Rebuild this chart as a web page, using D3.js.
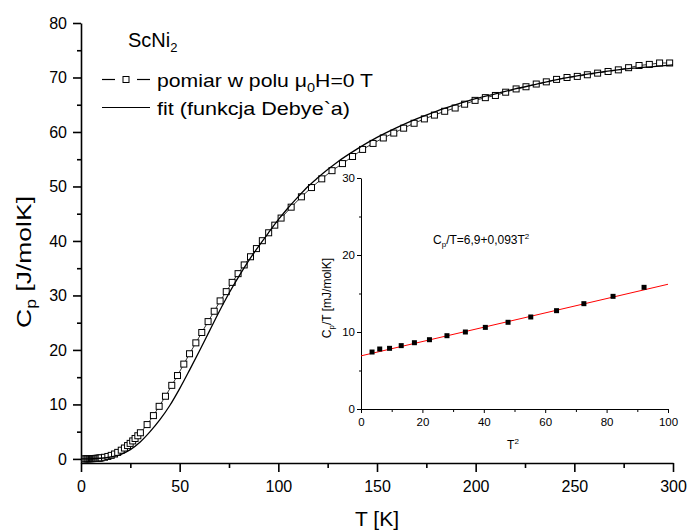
<!DOCTYPE html>
<html>
<head>
<meta charset="utf-8">
<script src="https://cdn.jsdelivr.net/npm/d3@7"></script>
<style>
  body { margin: 0; background: #fff; }
  svg text { font-family: "Liberation Sans", Arial, Helvetica, sans-serif; fill: #000; }
</style>
</head>
<body>
<svg id="chart" width="688" height="532"></svg>
<script>
// Heat capacity of ScNi2, zero field: temperature [K] and Cp [J/molK]
const measT = [
  1.9, 2.5, 3.1, 3.6, 4.2, 4.7, 5.3, 5.8, 6.4, 6.9, 7.4, 8.0, 8.5, 9.1, 9.6,
  10.2, 11.9, 13.6, 15.3, 17.0, 18.6, 20.4, 22.0, 23.6, 24.9, 26.2, 27.4, 28.8, 30.1,
  33.5, 36.7, 39.6, 42.8, 46.0, 48.9, 52.1, 55.0, 58.2, 61.2, 64.4, 67.5, 70.5,
  73.6, 76.6, 79.6, 82.7, 85.9, 88.9, 91.9, 95.1, 98.2, 101.4, 106.5, 111.7,
  116.8, 122.0, 127.2, 132.5, 137.6, 142.7, 148.0, 153.2, 158.5, 163.5, 168.8,
  174.0, 179.1, 184.3, 189.6, 194.4, 199.7, 204.9, 210.0, 215.2, 220.5, 225.5,
  230.7, 235.8, 241.0, 246.3, 251.5, 256.6, 261.8, 267.1, 272.3, 277.5, 282.8,
  288.0, 293.2, 298.3
];
const measCp = [
  0.014, 0.019, 0.024, 0.030, 0.036, 0.042, 0.050, 0.058, 0.068, 0.078, 0.088, 0.102, 0.116, 0.133, 0.152,
  0.20, 0.30, 0.45, 0.65, 0.90, 1.20, 1.60, 2.00, 2.45, 2.85, 3.30, 3.75, 4.25, 4.80,
  6.30, 7.95, 9.65, 11.5, 13.5, 15.3, 17.4, 19.3, 21.3, 23.2, 25.2, 27.1, 29.0,
  30.7, 32.4, 34.0, 35.6, 37.1, 38.6, 40.05, 41.5, 42.9, 44.2, 46.2, 48.1,
  49.8, 51.4, 52.9, 54.2, 55.5, 56.8, 57.9, 58.9, 59.8, 60.7, 61.6,
  62.4, 63.1, 63.8, 64.4, 65.1, 65.8, 66.3, 66.7, 67.3, 67.9, 68.3,
  68.8, 69.2, 69.65, 70.0, 70.2, 70.5, 70.8, 71.1, 71.4, 71.8, 72.2,
  72.4, 72.66, 72.66
];

// Debye fit curve
const fitT = [
  0, 5, 10, 15, 20, 25, 30, 35, 40, 45, 50, 55, 60, 65, 70, 75, 80, 85, 90, 95,
  100, 105, 110, 115, 120, 125, 130, 140, 150, 160, 170, 180, 190, 200, 210,
  220, 230, 240, 250, 260, 270, 280, 290, 300
];
const fitCp = [
  0, 0.02, 0.12, 0.35, 0.8, 1.7, 3.1, 5.0, 7.2, 9.8, 12.9, 16.3, 19.8, 23.4, 27.0, 30.4, 33.5, 36.4, 39.0, 41.5,
  43.9, 46.1, 48.1, 50.0, 51.6, 53.1, 54.5, 56.9, 59.0, 60.8, 62.4, 63.8, 65.0, 66.1, 67.0,
  67.9, 68.7, 69.5, 70.2, 70.8, 71.3, 71.7, 72.0, 72.3
];

// Low-temperature Cp/T [mJ/molK] versus T^2
const insetT2 = [3.6, 6.1, 9.3, 13.1, 17.4, 22.3, 28.0, 34.0, 40.5, 47.9, 55.3, 63.7, 72.6, 82.1, 92.2];
const insetCpT = [7.40, 7.79, 7.88, 8.23, 8.61, 9.00, 9.52, 10.0, 10.6, 11.26, 11.95, 12.77, 13.68, 14.63, 15.8];
// Linear fit Cp/T = 6.9 + 0.093 T^2, end points
const insetFitT2 = [0, 100];
const insetFitCpT = [6.9, 16.2];

// Tick values
const mainXTicks = [0, 50, 100, 150, 200, 250, 300];
const mainXMinor = [25, 75, 125, 175, 225, 275];
const mainYTicks = [0, 10, 20, 30, 40, 50, 60, 70, 80];
const mainYMinor = [5, 15, 25, 35, 45, 55, 65, 75];
const insetXTicks = [0, 20, 40, 60, 80, 100];
const insetXMinor = [10, 30, 50, 70, 90];
const insetYTicks = [0, 10, 20, 30];
const insetYMinor = [5, 15, 25];

const FONT = '"Liberation Sans", Arial, Helvetica, sans-serif';
const svg = d3.select("#chart");

// ---------- main panel ----------
const x = d3.scaleLinear().domain([0, 300]).range([81, 673]);
const y = d3.scaleLinear().domain([-0.75, 80]).range([463, 23]);

function styleAxis(g, width, fontSize) {
  g.attr("font-family", FONT);
  g.select(".domain").attr("stroke", "#000").attr("stroke-width", width);
  g.selectAll(".tick line").attr("stroke", "#000").attr("stroke-width", width);
  g.selectAll(".tick text").attr("font-size", fontSize).attr("fill", "#000");
}

const gx = svg.append("g").attr("transform", "translate(0,463)")
  .call(d3.axisBottom(x).tickValues(mainXTicks).tickSize(9).tickSizeOuter(0).tickPadding(9).tickFormat(d3.format("d")));
styleAxis(gx, 1.6, 16);
const gxm = svg.append("g").attr("transform", "translate(0,463)")
  .call(d3.axisBottom(x).tickValues(mainXMinor).tickSize(5).tickFormat(""));
styleAxis(gxm, 1.6, 16);
gxm.select(".domain").remove();

const gy = svg.append("g").attr("transform", "translate(81,0)")
  .call(d3.axisLeft(y).tickValues(mainYTicks).tickSize(8).tickSizeOuter(0).tickPadding(6).tickFormat(d3.format("d")));
styleAxis(gy, 1.6, 16);
const gym = svg.append("g").attr("transform", "translate(81,0)")
  .call(d3.axisLeft(y).tickValues(mainYMinor).tickSize(4).tickFormat(""));
styleAxis(gym, 1.6, 16);
gym.select(".domain").remove();

// axis titles
svg.append("text").attr("x", 377).attr("y", 526).attr("text-anchor", "middle")
  .attr("font-size", 21).text("T [K]");
const yl = svg.append("text").attr("transform", "translate(31,262) rotate(-90)")
  .attr("text-anchor", "middle").attr("font-size", 21)
  .attr("textLength", 132).attr("lengthAdjust", "spacingAndGlyphs");
yl.append("tspan").text("C");
yl.append("tspan").attr("font-size", 14).attr("dy", 5).text("p");
yl.append("tspan").attr("dy", -5).text(" [J/molK]");

// measured series: thin connecting line plus open squares
const meas = measT.map((t, i) => ({ t, c: measCp[i] }));
const lineMeas = d3.line().x(d => x(d.t)).y(d => y(d.c));
svg.append("path").datum(meas).attr("d", lineMeas)
  .attr("fill", "none").attr("stroke", "#000").attr("stroke-width", 0.8);
svg.append("g").selectAll("rect").data(meas).join("rect")
  .attr("x", d => x(d.t) - 3).attr("y", d => y(d.c) - 3)
  .attr("width", 6).attr("height", 6)
  .attr("fill", "#fff").attr("stroke", "#000").attr("stroke-width", 1);

// Debye fit
const fit = fitT.map((t, i) => ({ t, c: fitCp[i] }));
svg.append("path").datum(fit)
  .attr("d", d3.line().x(d => x(d.t)).y(d => y(d.c)).curve(d3.curveMonotoneX))
  .attr("fill", "none").attr("stroke", "#000").attr("stroke-width", 1.3);

// legend
const title = svg.append("text").attr("x", 128).attr("y", 47).attr("font-size", 20);
title.append("tspan").text("ScNi");
title.append("tspan").attr("font-size", 13).attr("dy", 5).text("2");

svg.append("line").attr("x1", 102).attr("x2", 115).attr("y1", 79.5).attr("y2", 79.5)
  .attr("stroke", "#000").attr("stroke-width", 1.2);
svg.append("rect").attr("x", 123).attr("y", 76.5).attr("width", 6).attr("height", 6)
  .attr("fill", "#fff").attr("stroke", "#000").attr("stroke-width", 1);
svg.append("line").attr("x1", 137).attr("x2", 150).attr("y1", 79.5).attr("y2", 79.5)
  .attr("stroke", "#000").attr("stroke-width", 1.2);
const leg1 = svg.append("text").attr("x", 157).attr("y", 87).attr("font-size", 19)
  .attr("textLength", 216).attr("lengthAdjust", "spacingAndGlyphs");
leg1.append("tspan").text("pomiar w polu \u03BC");
leg1.append("tspan").attr("font-size", 13).attr("dy", 5).text("0");
leg1.append("tspan").attr("dy", -5).text("H=0 T");

svg.append("line").attr("x1", 102).attr("x2", 150).attr("y1", 107.5).attr("y2", 107.5)
  .attr("stroke", "#000").attr("stroke-width", 1.2);
svg.append("text").attr("x", 157).attr("y", 115).attr("font-size", 19)
  .attr("textLength", 193).attr("lengthAdjust", "spacingAndGlyphs")
  .text("fit (funkcja Debye`a)");

// ---------- inset ----------
const xi = d3.scaleLinear().domain([0, 100]).range([361, 668]);
const yi = d3.scaleLinear().domain([0, 30]).range([409, 178]);

const gxi = svg.append("g").attr("transform", "translate(0,409)")
  .call(d3.axisBottom(xi).tickValues(insetXTicks).tickSize(4).tickSizeOuter(0).tickPadding(5).tickFormat(d3.format("d")));
styleAxis(gxi, 1, 11.5);
const gxim = svg.append("g").attr("transform", "translate(0,409)")
  .call(d3.axisBottom(xi).tickValues(insetXMinor).tickSize(3).tickFormat(""));
styleAxis(gxim, 1, 11.5);
gxim.select(".domain").remove();

const gyi = svg.append("g").attr("transform", "translate(361,0)")
  .call(d3.axisLeft(yi).tickValues(insetYTicks).tickSize(4).tickSizeOuter(0).tickPadding(2).tickFormat(d3.format("d")));
styleAxis(gyi, 1, 11.5);
const gyim = svg.append("g").attr("transform", "translate(361,0)")
  .call(d3.axisLeft(yi).tickValues(insetYMinor).tickSize(2).tickFormat(""));
styleAxis(gyim, 1, 11.5);
gyim.select(".domain").remove();

// inset titles
const xit = svg.append("text").attr("x", 513).attr("y", 449).attr("text-anchor", "middle").attr("font-size", 12);
xit.append("tspan").text("T");
xit.append("tspan").attr("font-size", 8).attr("dy", -5).text("2");

const yit = svg.append("text").attr("transform", "translate(331,298) rotate(-90)")
  .attr("text-anchor", "middle").attr("font-size", 12);
yit.append("tspan").text("C");
yit.append("tspan").attr("font-size", 8).attr("dy", 3).text("p");
yit.append("tspan").attr("dy", -3).text("/T [mJ/molK]");

// inset fit line (red) and points
const ifit = insetFitT2.map((t, i) => ({ t, c: insetFitCpT[i] }));
svg.append("path").datum(ifit)
  .attr("d", d3.line().x(d => xi(d.t)).y(d => yi(d.c)))
  .attr("fill", "none").attr("stroke", "#ff0000").attr("stroke-width", 1);

const ipts = insetT2.map((t, i) => ({ t, c: insetCpT[i] }));
svg.append("g").selectAll("rect").data(ipts).join("rect")
  .attr("x", d => xi(d.t) - 2.5).attr("y", d => yi(d.c) - 2.5)
  .attr("width", 5).attr("height", 5).attr("fill", "#000");

// fit equation
const eq = svg.append("text").attr("x", 433).attr("y", 244).attr("font-size", 12);
eq.append("tspan").text("C");
eq.append("tspan").attr("font-size", 8).attr("dy", 3).text("p");
eq.append("tspan").attr("dy", -3).text("/T=6,9+0,093T");
eq.append("tspan").attr("font-size", 8).attr("dy", -5).text("2");
</script>
</body>
</html>
